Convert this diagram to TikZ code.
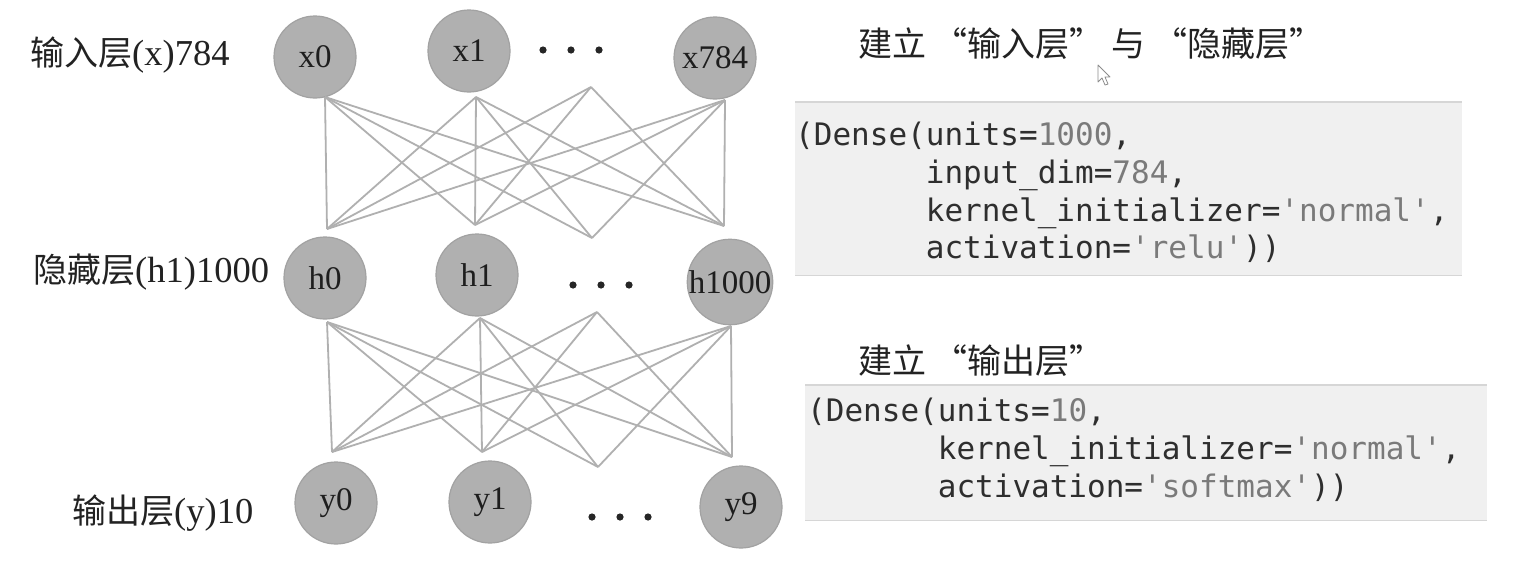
\documentclass[tikz,border=0pt]{standalone}
\usepackage{fontspec}
\setmainfont{Liberation Serif}
\setmonofont{DejaVu Sans Mono}
\newfontfamily\cjk{Noto Sans CJK SC}
\definecolor{nodefill}{HTML}{B0B0B0}
\definecolor{nodedraw}{HTML}{A2A2A2}
\definecolor{nodetext}{HTML}{1E1E1E}
\definecolor{linecol}{HTML}{B0B0B0}
\definecolor{codebg}{HTML}{F0F0F0}
\definecolor{codeborder}{HTML}{D6D6D6}
\definecolor{codedark}{HTML}{2E2E2E}
\definecolor{codelight}{HTML}{7A7A7A}
\definecolor{labtext}{HTML}{222222}
\newcommand{\lit}[1]{\textcolor{codelight}{#1}}
\newcommand{\cjkpart}[1]{{\cjk\fontsize{34}{40}\selectfont #1}}
\begin{document}
\begin{tikzpicture}[x=1pt,y=-1pt,
  neuron/.style={circle, fill=nodefill, draw=nodedraw, line width=1.2pt,
    minimum size=82pt, inner sep=0pt, text=nodetext,
    font=\fontsize{33}{38}\selectfont},
  conn/.style={draw=linecol, line width=1.8pt},
  lab/.style={anchor=west, inner sep=0pt, text=labtext,
    font=\fontsize{36.5}{42}\selectfont},
  title/.style={anchor=west, inner sep=0pt, text=labtext,
    font=\cjk\fontsize{34}{40}\selectfont},
  codebox/.style={anchor=north west, fill=codebg, inner sep=0pt},
  codeline/.style={draw=codeborder, line width=1.5pt},
  code/.style={anchor=base west, inner sep=0pt, text=codedark,
    font=\ttfamily\fontsize{31}{37}\selectfont},
  dotmark/.style={fill=black!85}
]
\useasboundingbox (0,0) rectangle (1528,562);
\fill[white] (0,0) rectangle (1528,562);

% neurons
\node[neuron] (x0) at (315,57) {x0};
\node[neuron] (x1) at (469,51) {x1};
\node[neuron] (x784) at (715,58) {x784};
\node[neuron] (h0) at (325,278) {h0};
\node[neuron] (h1) at (477,275) {h1};
\node[neuron] (h1000) at (730,282) {h1000};
\node[neuron] (y0) at (336,503) {y0};
\node[neuron] (y1) at (490,502) {y1};
\node[neuron] (y9) at (741,507) {y9};

% ellipsis dots
\foreach \px/\py in {543/50,571/50,599/50,573/285,601/285,629/285,592/517,620/517,648/517}
  \fill[dotmark] (\px,\py) circle (3.6pt);

% connector end points
\coordinate (t0) at (325,97);
\coordinate (t1) at (476,97);
\coordinate (t2) at (591,87);
\coordinate (t3) at (725,100);
\coordinate (m0) at (327,229);
\coordinate (m1) at (475,225);
\coordinate (m2) at (592,238);
\coordinate (m3) at (724,226);
\coordinate (n0) at (327,322);
\coordinate (n1) at (480,318);
\coordinate (n2) at (597,312);
\coordinate (n3) at (731,326);
\coordinate (b0) at (332,452);
\coordinate (b1) at (482,452);
\coordinate (b2) at (598,467);
\coordinate (b3) at (732,457);

\foreach \i in {0,1,2,3}{
  \foreach \j in {0,1,2,3}{
    \ifnum\i\j=22\else
      \draw[conn] (t\i) -- (m\j);
      \draw[conn] (n\i) -- (b\j);
    \fi
  }
}

% left labels
\node[lab] (lx) at (30,55) {\cjkpart{输入层}(x)784};
\node[lab] (lh) at (33,272) {\cjkpart{隐藏层}(h1)1000};
\node[lab] (ly) at (72,513) {\cjkpart{输出层}(y)10};

% titles
\node[title] (t1title) at (858,44) {建立 “输入层” 与 “隐藏层”};
\node[title] (t2title) at (858,361) {建立 “输出层”};

% cursor
\draw[draw=black!45, fill=white, line width=0.8pt, line join=round]
  (1098,65) -- (1098,82) -- (1102,78) -- (1105,85) -- (1108,84) -- (1105,77) -- (1110,77) -- cycle;

% code box 1
\node[codebox, minimum width=667pt, minimum height=173pt] (box1) at (795,102) {};
\draw[codeline] (box1.north west) -- (box1.north east);
\draw[codeline] (box1.south west) -- (box1.south east);
\node[code] (c11) at (795,145) {(Dense(units=\lit{1000},};
\node[code] (c12) at (795,183) {\phantom{(Dense(}input\_dim=\lit{784},};
\node[code] (c13) at (795,221) {\phantom{(Dense(}kernel\_initializer=\lit{'normal'},};
\node[code] (c14) at (795,258) {\phantom{(Dense(}activation=\lit{'relu'}))};

% code box 2
\node[codebox, minimum width=682pt, minimum height=135pt] (box2) at (805,385) {};
\draw[codeline] (box2.north west) -- (box2.north east);
\draw[codeline] (box2.south west) -- (box2.south east);
\node[code] (c21) at (807,421) {(Dense(units=\lit{10},};
\node[code] (c22) at (807,459) {\phantom{(Dense(}kernel\_initializer=\lit{'normal'},};
\node[code] (c23) at (807,497) {\phantom{(Dense(}activation=\lit{'softmax'}))};
\end{tikzpicture}
\end{document}
